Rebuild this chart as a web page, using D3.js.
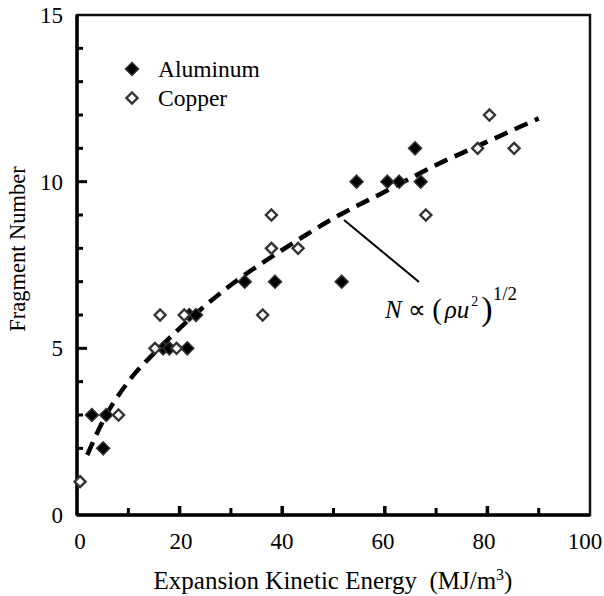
<!DOCTYPE html>
<html>
<head>
<meta charset="utf-8">
<script src="https://cdn.jsdelivr.net/npm/d3@7"></script>
<style>
  body { margin: 0; background: #fff; }
  text { font-family: "Liberation Serif", "Times New Roman", serif; fill: #000; }
</style>
</head>
<body>
<div id="chart"></div>
<script>
// data
var aluminumE = [2.9, 5.7, 5.1, 16.8, 18.0, 21.5, 21.9, 23.2, 32.7, 38.6, 51.6, 54.5, 60.5, 62.8, 65.9, 67.0];
var aluminumN = [3, 3, 2, 5, 5, 5, 6, 6, 7, 7, 7, 10, 10, 10, 11, 10];
var copperE = [0.6, 8.1, 15.2, 19.4, 16.2, 20.9, 36.2, 37.9, 37.9, 43.1, 68.0, 78.1, 80.4, 85.2];
var copperN = [1, 3, 5, 5, 6, 6, 6, 8, 9, 8, 9, 11, 12, 11];
// dashed fit line N ~ (rho u^2)^(1/2)
var fitE = [2, 5, 10, 15, 20, 30, 40, 50, 60, 70, 80, 90];
var fitN = [1.8, 2.8, 4.0, 4.85, 5.6, 6.9, 7.95, 8.9, 9.7, 10.5, 11.2, 11.9];
var xTicks = [0, 20, 40, 60, 80, 100];
var yTicks = [0, 5, 10, 15];

var width = 604, height = 596;
var margin = {left: 77, right: 14, top: 15, bottom: 81};

var svg = d3.select("#chart").append("svg")
    .attr("width", width).attr("height", height);

var x = d3.scaleLinear().domain([0, 100]).range([margin.left, width - margin.right]);
var y = d3.scaleLinear().domain([0, 15]).range([height - margin.bottom, margin.top]);

// inward minor/major ticks
var g = svg.append("g");
d3.range(1, 15).forEach(function(v) {
    var major = v % 5 == 0;
    g.append("line")
        .attr("x1", x(0)).attr("x2", x(0) + (major ? 10 : 6))
        .attr("y1", y(v)).attr("y2", y(v))
        .attr("stroke", "#000").attr("stroke-width", 3);
});
d3.range(10, 100, 10).forEach(function(v) {
    var major = v % 20 == 0;
    g.append("line")
        .attr("x1", x(v)).attr("x2", x(v))
        .attr("y1", y(0)).attr("y2", y(0) - (major ? 9 : 7))
        .attr("stroke", "#000").attr("stroke-width", major ? 3.5 : 3);
});

// frame
svg.append("rect")
    .attr("x", x(0)).attr("y", y(15))
    .attr("width", x(100) - x(0)).attr("height", y(0) - y(15))
    .attr("fill", "none").attr("stroke", "#111").attr("stroke-width", 2.5);
svg.append("line")
    .attr("x1", x(0)).attr("x2", x(0)).attr("y1", y(15)).attr("y2", y(0))
    .attr("stroke", "#000").attr("stroke-width", 3.5);
svg.append("line")
    .attr("x1", x(0)).attr("x2", x(100)).attr("y1", y(0)).attr("y2", y(0))
    .attr("stroke", "#000").attr("stroke-width", 3.5);

// tick labels (the original labels sit a bit tighter than the ticks)
svg.append("g").selectAll("text").data(xTicks).enter().append("text")
    .attr("x", function(d) { return x(d) + 3 - 0.08 * d; })
    .attr("y", 549)
    .attr("text-anchor", "middle")
    .attr("font-size", 23)
    .text(function(d) { return d; });
svg.append("g").selectAll("text").data(yTicks).enter().append("text")
    .attr("x", 63)
    .attr("y", function(d) { return y(d) + 8; })
    .attr("text-anchor", "end")
    .attr("font-size", 23)
    .text(function(d) { return d; });

// axis titles
var xt = svg.append("text")
    .attr("x", 333).attr("y", 589)
    .attr("text-anchor", "middle")
    .attr("font-size", 25);
xt.append("tspan").text("Expansion Kinetic Energy\u00a0\u00a0(MJ/m");
xt.append("tspan").attr("font-size", 16).attr("dy", -9).text("3");
xt.append("tspan").attr("dy", 9).text(")");

svg.append("text")
    .attr("transform", "translate(25,249) rotate(-90)")
    .attr("text-anchor", "middle")
    .attr("font-size", 22.5)
    .text("Fragment Number");

// fit line
var line = d3.line()
    .x(function(d) { return x(d[0]); })
    .y(function(d) { return y(d[1]); })
    .curve(d3.curveMonotoneX);
svg.append("path")
    .datum(d3.zip(fitE, fitN))
    .attr("d", line)
    .attr("fill", "none")
    .attr("stroke", "#000")
    .attr("stroke-width", 4.5)
    .attr("stroke-dasharray", "14,8");

// annotation
svg.append("line")
    .attr("x1", 344).attr("y1", 220).attr("x2", 419).attr("y2", 282)
    .attr("stroke", "#000").attr("stroke-width", 2);
var ann = svg.append("text")
    .attr("x", 385).attr("y", 318)
    .attr("font-size", 25);
ann.append("tspan").attr("font-style", "italic").text("N");
ann.append("tspan").text(" \u221d ");
ann.append("tspan").attr("font-size", 29).attr("dy", 1).text("(");
ann.append("tspan").attr("font-style", "italic").attr("dy", -1).attr("dx", 3).text("\u03c1u");
ann.append("tspan").attr("font-size", 14).attr("dy", -12).attr("dx", 2).text("2");
ann.append("tspan").attr("font-size", 34).attr("dy", 14).attr("dx", 3).text(")");
ann.append("tspan").attr("font-size", 19).attr("dy", -20).text("1/2");

// markers
var diamond = "M0,-6.5L6.5,0L0,6.5L-6.5,0Z";
svg.append("g").selectAll("path").data(d3.zip(aluminumE, aluminumN)).enter().append("path")
    .attr("d", diamond)
    .attr("transform", function(d) { return "translate(" + x(d[0]) + "," + y(d[1]) + ")"; })
    .attr("fill", "#000").attr("stroke", "#333").attr("stroke-width", 1.5);
svg.append("g").selectAll("path").data(d3.zip(copperE, copperN)).enter().append("path")
    .attr("d", "M0,-5.5L5.5,0L0,5.5L-5.5,0Z")
    .attr("transform", function(d) { return "translate(" + x(d[0]) + "," + y(d[1]) + ")"; })
    .attr("fill", "#fff").attr("stroke", "#333").attr("stroke-width", 2.4);

// legend
var legend = svg.append("g");
legend.append("path").attr("d", diamond)
    .attr("transform", "translate(132,69)")
    .attr("fill", "#000").attr("stroke", "#333").attr("stroke-width", 1.5);
legend.append("text").attr("x", 158).attr("y", 77).attr("font-size", 23.5).text("Aluminum");
legend.append("path").attr("d", "M0,-5.5L5.5,0L0,5.5L-5.5,0Z")
    .attr("transform", "translate(132,98)")
    .attr("fill", "#fff").attr("stroke", "#333").attr("stroke-width", 2.4);
legend.append("text").attr("x", 158).attr("y", 106).attr("font-size", 23.5).text("Copper");
</script>
</body>
</html>
